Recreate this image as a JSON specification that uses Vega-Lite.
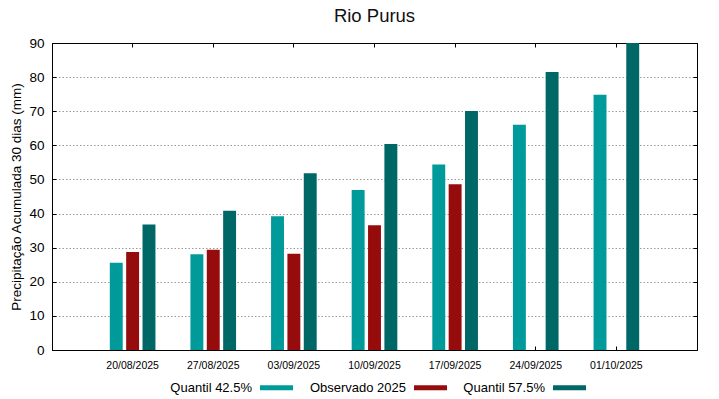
{
  "$schema": "https://vega.github.io/schema/vega-lite/v6.json",
  "width": 645,
  "height": 307,
  "autosize": {"type": "none"},
  "padding": {"left": 52, "top": 43, "right": 22, "bottom": 49},
  "title": {"text": "Rio Purus", "fontSize": 18.5, "font": "Liberation Sans", "fontWeight": "normal", "color": "#111", "offset": 11, "anchor": "middle"},
  "config": {"view": {"stroke": "#000", "strokeWidth": 1}, "font": "Liberation Sans"},
  "data": {"values": [
    {"data": "20/08/2025", "serie": "Quantil 42.5%", "valor": 25.6},
    {"data": "20/08/2025", "serie": "Observado 2025", "valor": 28.7},
    {"data": "20/08/2025", "serie": "Quantil 57.5%", "valor": 36.8},
    {"data": "27/08/2025", "serie": "Quantil 42.5%", "valor": 28.1},
    {"data": "27/08/2025", "serie": "Observado 2025", "valor": 29.4},
    {"data": "27/08/2025", "serie": "Quantil 57.5%", "valor": 40.8},
    {"data": "03/09/2025", "serie": "Quantil 42.5%", "valor": 39.2},
    {"data": "03/09/2025", "serie": "Observado 2025", "valor": 28.2},
    {"data": "03/09/2025", "serie": "Quantil 57.5%", "valor": 51.8},
    {"data": "10/09/2025", "serie": "Quantil 42.5%", "valor": 46.9},
    {"data": "10/09/2025", "serie": "Observado 2025", "valor": 36.6},
    {"data": "10/09/2025", "serie": "Quantil 57.5%", "valor": 60.4},
    {"data": "17/09/2025", "serie": "Quantil 42.5%", "valor": 54.4},
    {"data": "17/09/2025", "serie": "Observado 2025", "valor": 48.6},
    {"data": "17/09/2025", "serie": "Quantil 57.5%", "valor": 70.1},
    {"data": "24/09/2025", "serie": "Quantil 42.5%", "valor": 66.0},
    {"data": "24/09/2025", "serie": "Quantil 57.5%", "valor": 81.5},
    {"data": "01/10/2025", "serie": "Quantil 42.5%", "valor": 74.8},
    {"data": "01/10/2025", "serie": "Quantil 57.5%", "valor": 90.0}
  ]},
  "layer": [
    {
      "mark": {"type": "bar", "clip": true},
      "encoding": {
        "x": {"field": "data", "type": "nominal", "sort": null,
          "scale": {"paddingInner": 0.434, "paddingOuter": 0.717},
          "axis": {"orient": "bottom", "title": null, "labelAngle": 0, "labelFontSize": 10.5, "labelColor": "#000", "tickSize": -4, "tickColor": "#000", "labelPadding": 14, "domainColor": "#000", "labelDx": 7}},
        "xOffset": {"field": "serie", "type": "nominal", "sort": ["Quantil 42.5%", "Observado 2025", "Quantil 57.5%"],
          "scale": {"paddingInner": 0.21, "paddingOuter": 0}},
        "y": {"field": "valor", "type": "quantitative",
          "scale": {"domain": [0, 90], "nice": false},
          "axis": {"orient": "left", "title": "Precipitação Acumulada 30 dias (mm)", "titleFontSize": 13.5, "titleFontWeight": "normal", "titleColor": "#000", "labelFontSize": 13.5, "labelColor": "#000", "tickSize": -4, "tickColor": "#000", "labelPadding": 12, "grid": false, "values": [0, 10, 20, 30, 40, 50, 60, 70, 80, 90], "domainColor": "#000", "titlePadding": 5}},
        "color": {"field": "serie", "type": "nominal",
          "scale": {"domain": ["Quantil 42.5%", "Observado 2025", "Quantil 57.5%"], "range": ["#009a9a", "#960c0c", "#006767"]},
          "legend": {"orient": "none", "legendX": 192, "legendY": 328, "direction": "horizontal", "title": null, "symbolType": "M-1,-0.15H1V0.15H-1Z", "symbolSize": 1089, "symbolStrokeWidth": 0, "labelFontSize": 13, "labelColor": "#000", "labelAlign": "right", "labelOffset": -41, "symbolOffset": 16, "columnPadding": 16}}
      }
    },
    {
      "mark": {"type": "bar", "opacity": 0},
      "encoding": {
        "x": {"field": "data", "type": "nominal", "sort": null,
          "axis": {"orient": "top", "title": null, "labels": false, "tickSize": -4, "tickColor": "#000", "domainColor": "#000"}},
        "xOffset": {"field": "serie", "type": "nominal", "sort": ["Quantil 42.5%", "Observado 2025", "Quantil 57.5%"]},
        "y": {"field": "valor", "type": "quantitative",
          "axis": {"orient": "right", "title": null, "labels": false, "tickSize": -4, "tickColor": "#000", "domainColor": "#000", "grid": true, "gridDash": [1.5, 2], "gridColor": "#9a9a9a", "values": [10, 20, 30, 40, 50, 60, 70, 80]}}
      }
    }
  ],
  "resolve": {"axis": {"x": "independent", "y": "independent"}}
}
